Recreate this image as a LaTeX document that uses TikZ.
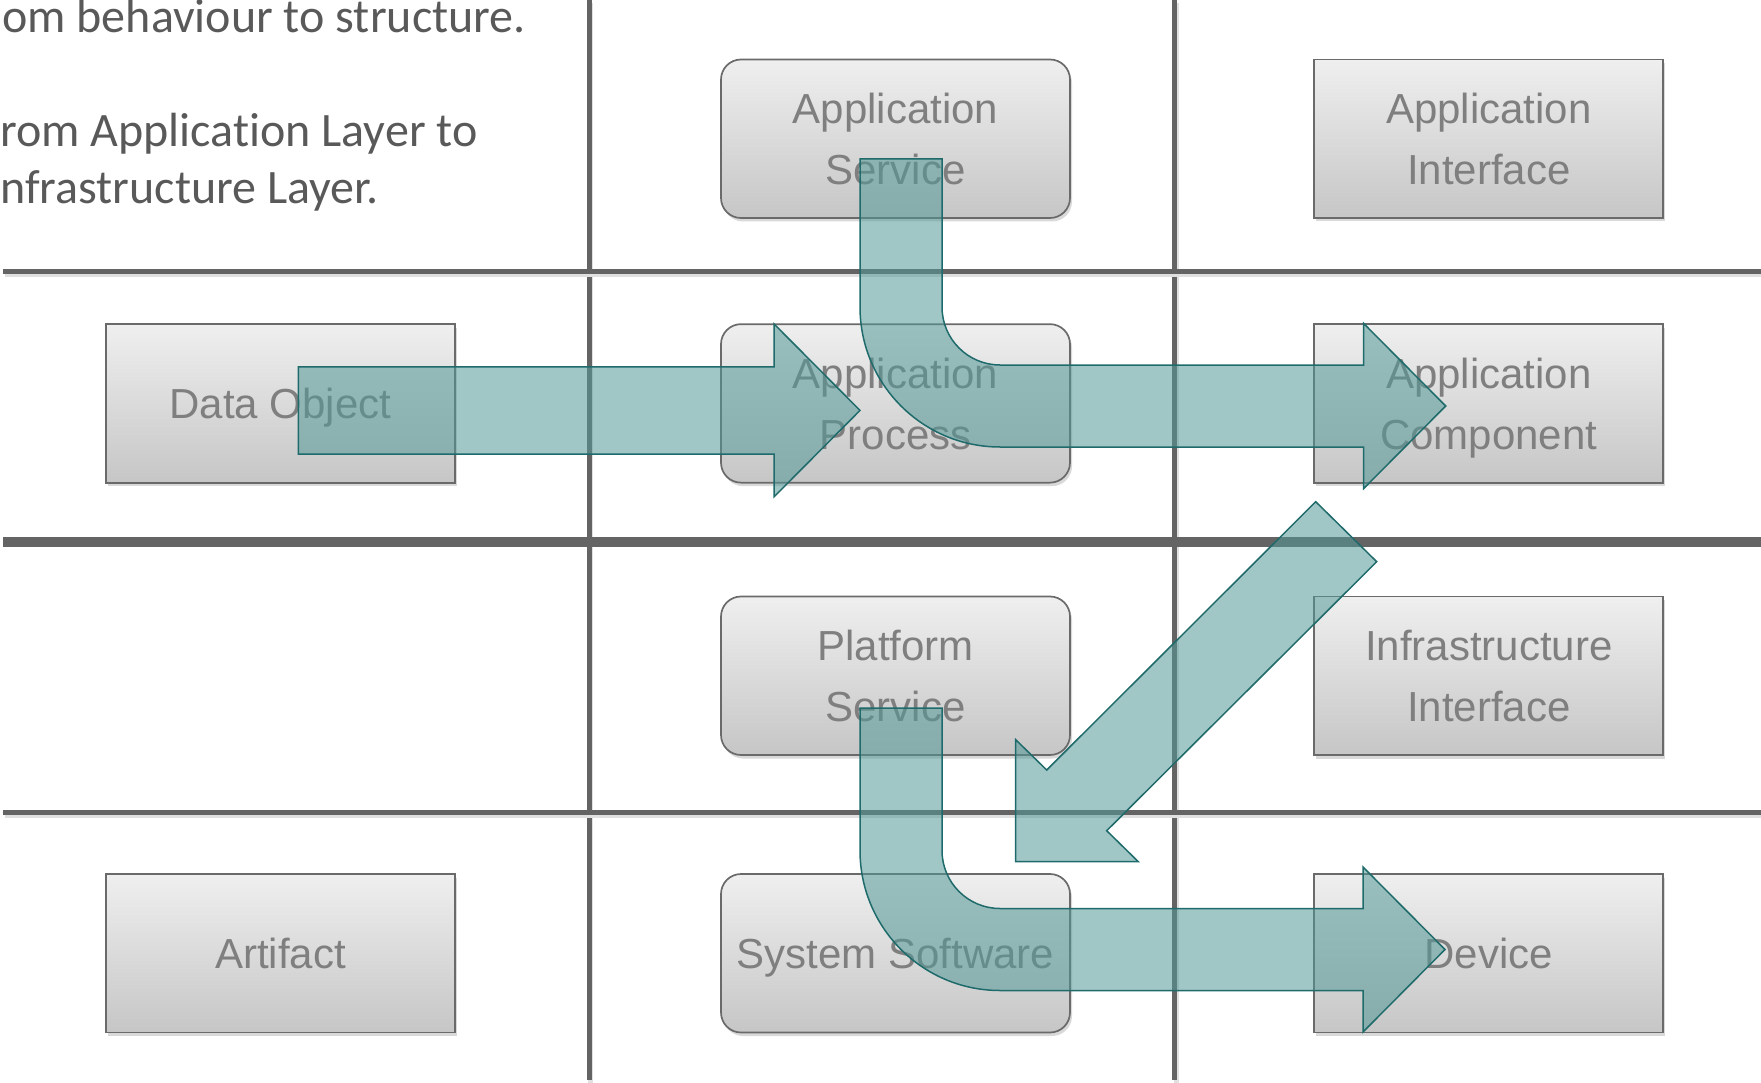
\documentclass[tikz,border=0pt]{standalone}
\usepackage{fontspec}
\setmainfont{Liberation Sans}
\newfontfamily\notefont[Ligatures=NoCommon]{Carlito}
\usetikzlibrary{calc,shadows}

\definecolor{gridgray}{HTML}{646464}
\definecolor{boxline}{HTML}{6A6A6A}
\definecolor{boxtop}{HTML}{EFEFEF}
\definecolor{boxbottom}{HTML}{C6C6C6}
\definecolor{labelgray}{HTML}{7F7F7F}
\definecolor{notegray}{HTML}{595959}
\definecolor{arrowfill}{RGB}{82,151,151}
\definecolor{arrowline}{HTML}{1F6B6B}

%% straight block arrow: from (#1) to tip (#2)
\newcommand{\flatarrow}[2]{%
  \draw[blockarrow] ($(#1)+(0,-43.6)$) -- ($(#2)+(-86,-43.6)$) -- ($(#2)+(-86,-86.5)$)
    -- (#2) -- ($(#2)+(-86,86.5)$) -- ($(#2)+(-86,43.6)$) -- ($(#1)+(0,43.6)$) -- cycle;}
%% bent block arrow: down from (#1), then right to tip (#2)
\newcommand{\bentarrow}[2]{%
  \draw[blockarrow] ($(#1)+(-41,0)$) -- ($(#1|-#2)+(-41,-99)$)
    .. controls ($(#1|-#2)+(-41,-21.7)$) and ($(#1|-#2)+(21.7,41)$) .. ($(#1|-#2)+(99,41)$)
    -- ($(#2)+(-82,41)$) -- ($(#2)+(-82,82.5)$) -- (#2)
    -- ($(#2)+(-82,-82.5)$) -- ($(#2)+(-82,-41)$) -- ($(#1|-#2)+(99,-41)$)
    .. controls ($(#1|-#2)+(67,-41)$) and ($(#1|-#2)+(41,-67)$) .. ($(#1|-#2)+(41,-99)$)
    -- ($(#1)+(41,0)$) -- cycle;}

\begin{document}
\begin{tikzpicture}[x=1pt,y=-1pt,
  grid/.style={draw=gridgray,line width=5pt,
    preaction={draw=black!12,line width=5pt,transform canvas={xshift=1.5pt,yshift=-3pt}}},
  box/.style={draw=boxline,line width=1.7pt,top color=boxtop,bottom color=boxbottom,
    minimum width=349pt,minimum height=158.5pt,inner sep=0pt,
    font=\fontsize{42}{61}\selectfont,text=labelgray,align=center,text depth=0pt,
    drop shadow={shadow xshift=2pt,shadow yshift=-3.5pt,opacity=0.3}},
  rbox/.style={box,rounded corners=20pt},
  note/.style={anchor=base west,inner sep=0pt,text=notegray,
    font=\notefont\fontsize{48}{57}\selectfont},
  blockarrow/.style={draw=arrowline,line width=1.5pt,fill=arrowfill,fill opacity=0.55,
    line join=miter}]
\useasboundingbox (0,0) rectangle (1761,1083);
%%Grid
\draw[grid] (589,0) -- (589,1080);
\draw[grid] (1174.5,0) -- (1174.5,1080);
\draw[grid] (3.4,272) -- (1761,272);
\draw[grid,line width=10pt] (3.4,541.7) -- (1761,541.7);
\draw[grid] (3.4,812) -- (1761,812);
%%Text
\node[note] (note1) at (2,33) {om behaviour to structure.};
\node[note] (note2) at (0,147) {rom Application Layer to};
\node[note] (note3) at (0,204) {nfrastructure Layer.};
%%Boxes
\node[rbox] (appsrv) at (895.5,138.75) {Application\\Service};
\node[box] (appif) at (1488.75,138.75) {Application\\Interface};
\node[box] (dataobj) at (280.35,403.4) {Data Object};
\node[rbox] (appproc) at (895.5,403.4) {Application\\Process};
\node[box] (appcomp) at (1488.75,403.4) {Application\\Component};
\node[rbox] (platsrv) at (895.5,675.75) {Platform\\Service};
\node[box] (infraif) at (1488.75,675.75) {Infrastructure\\Interface};
\node[box] (artifact) at (280.35,953.25) {Artifact};
\node[rbox] (syssw) at (895.5,953.25) {System Software};
\node[box] (device) at (1488.75,953.25) {Device};
%%Arrows
\coordinate (a1from) at (298.3,410.4);
\coordinate (a1to) at (860,410.4);
\coordinate (a2from) at (901,159);
\coordinate (a2to) at (1445.7,406);
\coordinate (a3from) at (1346.2,531.7);
\coordinate (a3to) at (1015.7,861.7);
\coordinate (a4from) at (901,708);
\coordinate (a4to) at (1445,949.5);
\flatarrow{a1from}{a1to}
\bentarrow{a2from}{a2to}
\draw[blockarrow] ($(a3from)+(-30.5,-30)$) -- ($(a3from)+(30.5,30)$) -- ($(a3to)+(91,-31)$)
  -- ($(a3to)+(122.6,0)$) -- (a3to) -- ($(a3to)+(0,-122)$) -- ($(a3to)+(31,-91.7)$) -- cycle;
\bentarrow{a4from}{a4to}
\end{tikzpicture}
\end{document}
